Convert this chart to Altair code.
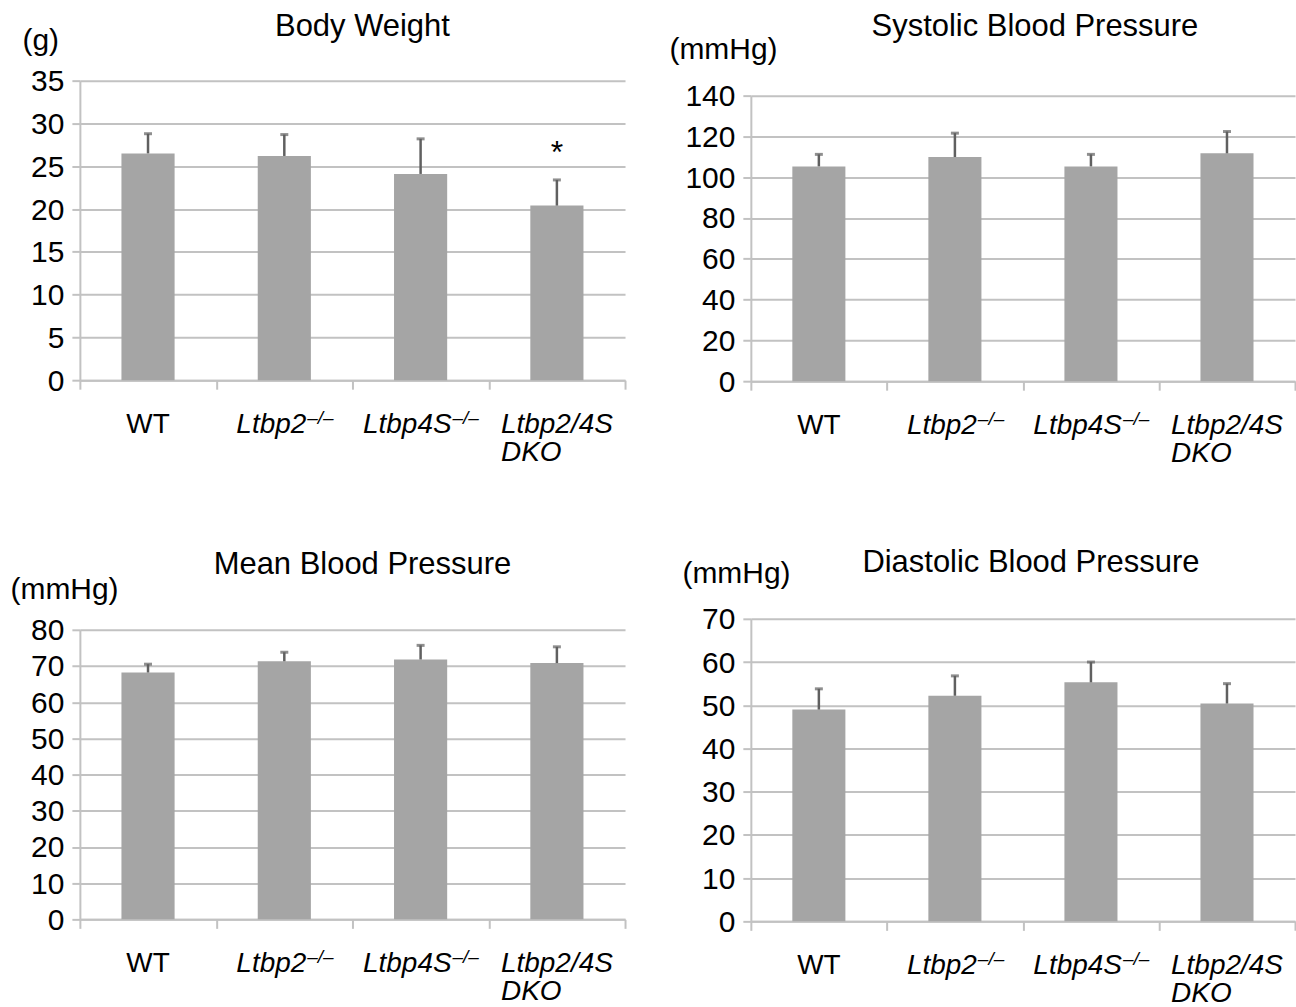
import altair as alt
import pandas as pd

# ---------------- data ----------------
groups = ["WT", "Ltbp2", "Ltbp4S", "Ltbp2/4S DKO"]
label_main = ["WT", "Ltbp2", "Ltbp4S", "Ltbp2/4S"]
label_sup = ["", "\u2013/\u2013", "\u2013/\u2013", ""]
label_line2 = ["", "", "", "DKO"]

bw_mean = [26.5, 26.2, 24.1, 20.4]
bw_err = [2.3, 2.5, 4.1, 3.0]
bw_sig = ["", "", "", "*"]

sbp_mean = [105.3, 109.9, 105.3, 111.7]
sbp_err = [5.9, 11.7, 5.9, 10.7]

mbp_mean = [68.2, 71.3, 71.8, 70.8]
mbp_err = [2.3, 2.5, 3.9, 4.5]

dbp_mean = [49.0, 52.2, 55.3, 50.4]
dbp_err = [4.8, 4.6, 4.7, 4.6]

no_sig = ["", "", "", ""]

# ---------------- style ----------------
FONT = "Liberation Sans"
BAR = "#a5a5a5"
GRID = "#c2c2c2"
ERR = "#606060"


def panel(title, unit, mean, err, sig, ymax, ystep, width, height, rng,
          unit_x, unit_y, title_dx, title_dy):
    df = pd.DataFrame({
        "group": groups,
        "mean": mean,
        "upper": [m + e for m, e in zip(mean, err)],
        "main": label_main,
        "sup": label_sup,
        "line2": label_line2,
        "sig": sig,
    })
    base = alt.Chart(df)
    xs = alt.X("group:N", sort=groups)
    x_axis = alt.X(
        "group:N", sort=groups,
        scale=alt.Scale(paddingInner=0, paddingOuter=0),
        axis=alt.Axis(labels=False, title=None, tickBand="extent", grid=False,
                      domainColor=GRID, domainWidth=2, tickColor=GRID,
                      tickWidth=2, tickSize=9),
    )
    tick_values = list(range(0, ymax + 1, ystep))
    y_axis = alt.Y(
        "mean:Q",
        scale=alt.Scale(domain=[0, ymax], range=rng, nice=False, zero=True),
        axis=alt.Axis(values=tick_values, tickCount=len(tick_values), title=unit,
                      titleAngle=0, titleAlign="left", titleBaseline="alphabetic",
                      titleX=unit_x, titleY=unit_y, titleFont=FONT,
                      titleFontSize=30, titleFontWeight="normal", titleColor="black",
                      labelFont=FONT, labelFontSize=30, labelColor="black",
                      labelPadding=8, labelOffset=1, labelOverlap=False,
                      tickSize=8, tickColor=GRID,
                      tickWidth=2, domainColor=GRID, domainWidth=2,
                      gridColor=GRID, gridWidth=2),
    )
    bars = base.mark_bar(color=BAR, width=alt.RelativeBandSize(0.39)).encode(
        x=x_axis, y=y_axis)
    rule = base.mark_rule(color=ERR, strokeWidth=2.5).encode(
        x=xs, y="mean:Q", y2="upper:Q")
    cap = base.mark_tick(color=ERR, thickness=3, size=8, orient="horizontal").encode(
        x=xs, y="upper:Q")
    star = base.transform_filter("datum.sig != ''").mark_text(
        font=FONT, fontSize=32, baseline="alphabetic", dy=-17, color="black"
    ).encode(x=xs, y="upper:Q", text="sig:N")

    yb = height + 53

    def lab(test, field, align, dx, dy, size, style):
        return base.transform_filter(test).mark_text(
            font=FONT, fontSize=size, fontStyle=style, align=align,
            baseline="alphabetic", dx=dx, color="black"
        ).encode(x=xs, y=alt.value(yb + dy), text=f"{field}:N")

    labels = [
        lab("datum.group == 'WT'", "main", "center", 0, 0, 28, "normal"),
        lab("datum.group == 'Ltbp2'", "main", "right", 22, 0, 28, "italic"),
        lab("datum.group == 'Ltbp2'", "sup", "left", 23, -9, 19, "italic"),
        lab("datum.group == 'Ltbp4S'", "main", "right", 31, 0, 28, "italic"),
        lab("datum.group == 'Ltbp4S'", "sup", "left", 32, -9, 19, "italic"),
        lab("datum.group == 'Ltbp2/4S DKO'", "main", "center", 0, 0, 28, "italic"),
        lab("datum.group == 'Ltbp2/4S DKO'", "line2", "left", -56, 28, 28, "italic"),
    ]
    return alt.layer(bars, rule, cap, star, *labels).properties(
        width=width, height=height,
        title=alt.TitleParams(text=title, font=FONT, fontSize=31,
                              fontWeight="normal", color="black",
                              anchor="middle", frame="group", baseline="alphabetic",
                              offset=0, dx=title_dx, dy=title_dy),
    )


p1 = panel("Body Weight", "(g)", bw_mean, bw_err, bw_sig, 35, 5, 546, 300,
           [300, 0], -58, -31, 10, 41)
p2 = panel("Systolic Blood Pressure", "(mmHg)", sbp_mean, sbp_err, no_sig, 140, 20,
           545, 301, [301, 15], -82, -22, 12, 32)
p3 = panel("Mean Blood Pressure", "(mmHg)", mbp_mean, mbp_err, no_sig, 80, 10,
           546, 301, [301, 11], -70, -20, 10, 30)
p4 = panel("Diastolic Blood Pressure", "(mmHg)", dbp_mean, dbp_err, no_sig, 70, 10,
           545, 303, [303, 0], -69, -36, 8, 44)

chart = alt.concat(p1, p2, p3, p4, columns=2, align="each",
                   spacing={"row": 79, "column": 43}).configure_view(
    stroke=None
).properties(
    background="white",
    padding={"left": 10, "top": 10, "right": 0, "bottom": 0},
)

chart.save("out.html", embed_options={"renderer": "svg", "actions": False})
